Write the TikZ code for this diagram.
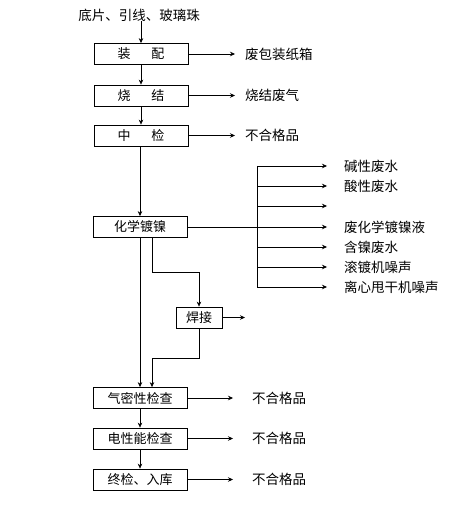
\documentclass[tikz,border=0pt]{standalone}
\usepackage{fontspec}
\setmainfont{Noto Sans CJK SC}
\usetikzlibrary{positioning, arrows.meta}

\begin{document}
\begin{tikzpicture}[x=1pt, y=-1pt,
    proc/.style={draw, thick, minimum width=94pt, minimum height=21pt, inner sep=0pt,
                 font=\fontsize{13}{14}\selectfont},
    small/.style={draw, thick, minimum width=46pt, minimum height=21pt, inner sep=0pt,
                  font=\fontsize{13}{14}\selectfont},
    outtext/.style={anchor=west, inner sep=0pt, font=\fontsize{13.5}{15}\selectfont},
    arr/.style={-{Stealth[length=5pt, width=4.5pt]}, semithick},
  ]
    \useasboundingbox (0,0) rectangle (457,518);
    \node[outtext, anchor=center] (src) at (139,15) {底片、引线、玻璃珠};
    \node[proc] (zp) at (141,54)    {装\hspace{1.6em}配};
    \node[proc] (sj) at (141,95.5)  {烧\hspace{1.6em}结};
    \node[proc] (zj) at (141,135.5) {中\hspace{1.6em}检};
    \node[proc] (hx) at (140,227)   {化学镀镍};
    \node[small] (hj) at (199,317.5) {焊接};
    \node[proc] (qm) at (140,398)   {气密性检查};
    \node[proc] (dx) at (140,438.5) {电性能检查};
    \node[proc] (zk) at (140,479.5) {终检、入库};
    % main line
    \draw[arr] (src.south -| zp.north) -- (zp.north);
    \foreach \a/\b in {zp/sj,sj/zj,qm/dx,dx/zk} \draw[arr] (\a) -- (\b);
    \draw[arr] (zj.south -| hx.north) -- (hx.north);
    \draw[arr] (hx.south) -- (qm.north);
    % welding branch
    \coordinate (b1) at (152,272);
    \coordinate (b2) at (152,358);
    \draw[arr] (hx.south -| b1) -- (b1) -| (hj.north);
    \draw[arr] (hj.south) |- (b2) -- (b2 |- qm.north);
    \coordinate (hjo) at (245,317.5);
    \draw[arr] (hj.east) -- (hjo);
    % outputs of the upper steps
    \foreach \n/\t in {zp/废包装纸箱, sj/烧结废气, zj/不合格品} {
      \coordinate (\n o) at (235,0 |- \n.east);
      \draw[arr] (\n.east) -- (\n o);
      \node[outtext] at (245,0 |- \n.east) {\t};
    }
    % outputs of the lower steps
    \foreach \n in {qm,dx,zk} {
      \coordinate (\n o) at (233,0 |- \n.east);
      \draw[arr] (\n.east) -- (\n o);
      \node[outtext] at (252,0 |- \n.east) {不合格品};
    }
    % nickel plating wastes
    \coordinate (bt) at (257,166);
    \coordinate (bb) at (257,287);
    \draw[semithick] (hx.east) -- (hx.east -| bt);
    \draw[semithick] (bt) -- (bb);
    \foreach \y/\t in {166/碱性废水, 186/酸性废水, 206/{}, 227/废化学镀镍液,
                       247/含镍废水, 267/滚镀机噪声, 287/离心甩干机噪声} {
      \coordinate (w\y) at (327,\y);
      \draw[arr] (bt |- w\y) -- (w\y);
      \node[outtext] at (344,\y) {\t};
    }
  \end{tikzpicture}
\end{document}
